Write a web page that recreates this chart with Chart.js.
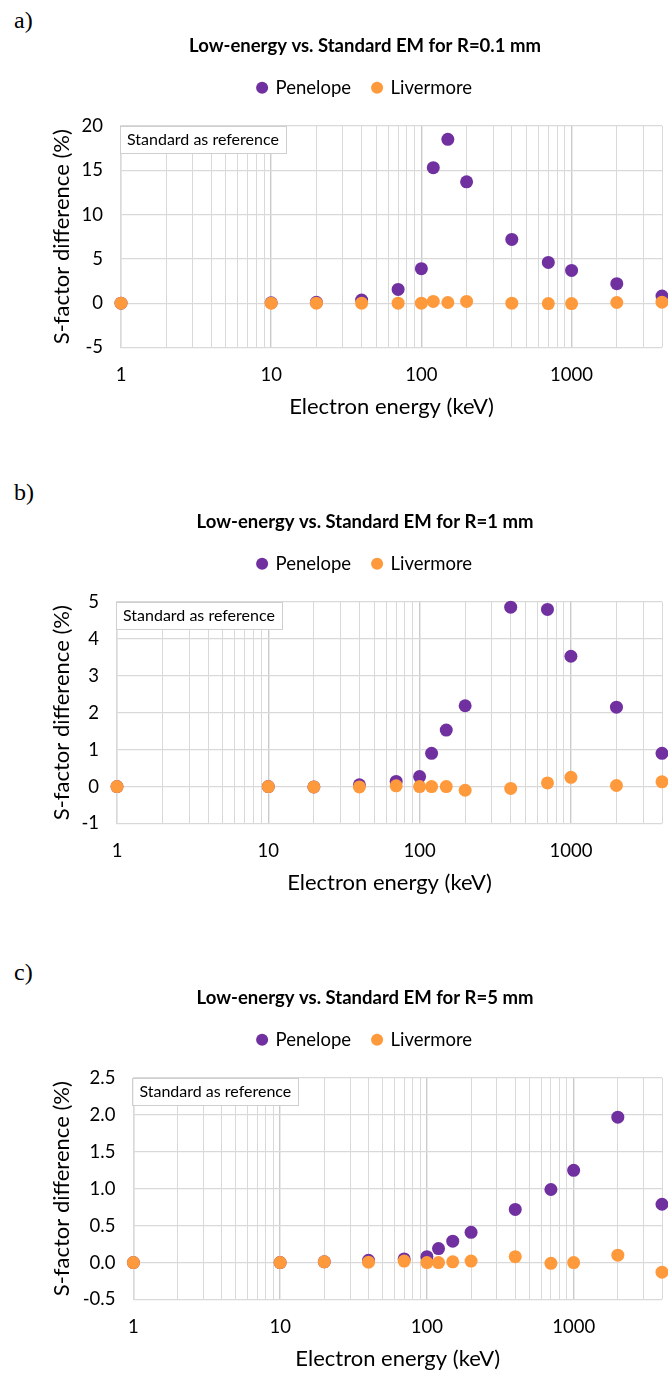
<!DOCTYPE html>
<html>
<head>
<meta charset="utf-8">
<script src="https://cdn.jsdelivr.net/npm/chart.js@4.4.1/dist/chart.umd.min.js"></script>
<style>
html,body{margin:0;padding:0;background:#fff;}
body{width:668px;height:1374px;overflow:hidden;position:relative;}
.tag{position:absolute;left:14px;font:24px "Liberation Serif",serif;line-height:28px;color:#000;}
canvas{position:absolute;left:0;}
</style>
</head>
<body>
<div class="tag" style="top:6px">a)</div>
<canvas id="chartA" width="730" height="405" style="top:21px"></canvas>
<div class="tag" style="top:478px">b)</div>
<canvas id="chartB" width="730" height="405" style="top:497px"></canvas>
<div class="tag" style="top:958px">c)</div>
<canvas id="chartC" width="730" height="405" style="top:973px"></canvas>
<script>
// electron energies (keV), shared by all three panels
const energies = [1, 10, 20, 40, 70, 100, 120, 150, 200, 400, 700, 1000, 2000, 4000];

// S-factor difference (%) vs Standard, R = 0.1 mm
const penA = [0, 0.05, 0.1, 0.35, 1.55, 3.9, 15.3, 18.5, 13.7, 7.2, 4.6, 3.7, 2.2, 0.8];
const livA = [0, 0, 0, 0, 0, 0, 0.2, 0.08, 0.2, 0, -0.04, -0.04, 0.08, 0.12];
// R = 1 mm
const penB = [0, 0, -0.01, 0.05, 0.14, 0.27, 0.9, 1.53, 2.19, 4.86, 4.8, 3.53, 2.15, 0.9];
const livB = [0, 0, -0.01, -0.01, 0.02, 0, 0, 0, -0.1, -0.05, 0.1, 0.25, 0.03, 0.13];
// R = 5 mm
const penC = [0, 0, 0.01, 0.03, 0.05, 0.08, 0.19, 0.29, 0.41, 0.72, 0.99, 1.25, 1.97, 0.79];
const livC = [0, 0, 0.01, 0.005, 0.02, 0, 0, 0.01, 0.02, 0.08, -0.01, 0, 0.1, -0.13];

const xLabels = [1, 10, 100, 1000];
const seriesNames = ['Penelope', 'Livermore'];
const noteText = 'Standard as reference';

const purple = '#7030A0', orange = '#FE9A3C';
const gridCol = '#d9d9d9', majorCol = '#cbcbcb';
const FONT = 'Lato';

function isDecade(v){ const l = Math.log10(v); return Math.abs(l - Math.round(l)) < 1e-9; }

const noteBox = {
  id: 'noteBox',
  afterDraw(c){
    const {ctx, chartArea: a} = c;
    ctx.save();
    ctx.fillStyle = '#fff'; ctx.fillRect(a.left, a.top, 166, 27);
    ctx.strokeStyle = '#cfcfcf'; ctx.lineWidth = 1; ctx.strokeRect(Math.round(a.left) - 0.5, Math.round(a.top) + 0.5, 166, 27);
    ctx.fillStyle = '#000'; ctx.font = '16px ' + FONT; ctx.textBaseline = 'middle';
    ctx.fillText(noteText, a.left + 6, a.top + 14);
    ctx.restore();
  }
};

// invisible axis used only to reserve space (keeps title/legend centred on the full canvas)
const spacer = (position, size) => ({type: 'linear', position, display: true, grid: {display: false}, border: {display: false},
  ticks: {display: false}, afterFit: s => { if (position === 'top') s.height = size; else s.width = size; }});

function makeChart(id, title, pen, liv, yMin, yMax, yStep, dec, plotLeft){
  const pts = arr => energies.map((e, i) => ({x: e, y: arr[i]}));
  const ds = (label, arr, col, order) => ({label, data: pts(arr), backgroundColor: col, borderColor: col, borderWidth: 0,
    pointRadius: 6.5, pointHoverRadius: 6.5, pointStyle: 'circle', order, clip: false, xAxisID: 'x', yAxisID: 'y'});
  return new Chart(document.getElementById(id), {
    type: 'scatter',
    data: {datasets: [ds(seriesNames[0], pen, purple, 1), ds(seriesNames[1], liv, orange, 0)]},
    options: {
      responsive: false, animation: false, events: [],
      layout: {padding: 0},
      plugins: {
        tooltip: {enabled: false},
        title: {display: true, text: title, color: '#000', font: {family: FONT, size: 18.5, weight: 'bold'}, padding: {top: 13.5, bottom: 0}},
        legend: {display: true, reverse: true, labels: {usePointStyle: true, pointStyle: 'circle', boxWidth: 8.5, boxHeight: 8.5,
          padding: 21.75, color: '#000', font: {family: FONT, size: 18.5}}}
      },
      scales: {
        x: {
          type: 'logarithmic', min: 1, max: 4000,
          afterBuildTicks: s => { s.ticks = s.ticks.filter(t => { const p = Math.pow(10, Math.floor(Math.log10(t.value) + 1e-9)); const m = t.value / p; return Math.abs(m - Math.round(m)) < 1e-6; }); },
          afterFit: s => { s.height = 78.5; },
          grid: {color: c => isDecade(c.tick.value) ? majorCol : gridCol, lineWidth: c => isDecade(c.tick.value) ? 1.4 : 1, drawTicks: false},
          border: {display: true, color: gridCol, width: 1},
          ticks: {autoSkip: false, maxRotation: 0, padding: 16, color: '#000', font: {family: FONT, size: 18.5},
            callback: v => xLabels.includes(v) ? String(v) : ''},
          title: {display: true, text: 'Electron energy (keV)', color: '#000', font: {family: FONT, size: 22}, padding: {top: 0, bottom: 5.8}}
        },
        y: {
          type: 'linear', min: yMin, max: yMax,
          afterFit: s => { s.width = plotLeft; },
          grid: {color: gridCol, lineWidth: 1.3, drawTicks: false},
          border: {display: true, color: gridCol, width: 1.3},
          ticks: {stepSize: yStep, padding: 18, color: '#000', font: {family: FONT, size: 18.5},
            callback: v => v.toFixed(dec)},
          title: {display: true, text: 'S-factor difference (%)', color: '#000', font: {family: FONT, size: 22}, padding: {top: 48.8, bottom: 0}}
        },
        gapTop: spacer('top', 19.05),
        gapRight: spacer('right', 68)
      }
    },
    plugins: [noteBox]
  });
}

makeChart('chartA', 'Low-energy vs. Standard EM for R=0.1 mm', penA, livA, -5, 20, 5, 0, 121);
makeChart('chartB', 'Low-energy vs. Standard EM for R=1 mm', penB, livB, -1, 5, 1, 0, 117);
makeChart('chartC', 'Low-energy vs. Standard EM for R=5 mm', penC, livC, -0.5, 2.5, 0.5, 1, 133.4);
</script>
</body>
</html>
